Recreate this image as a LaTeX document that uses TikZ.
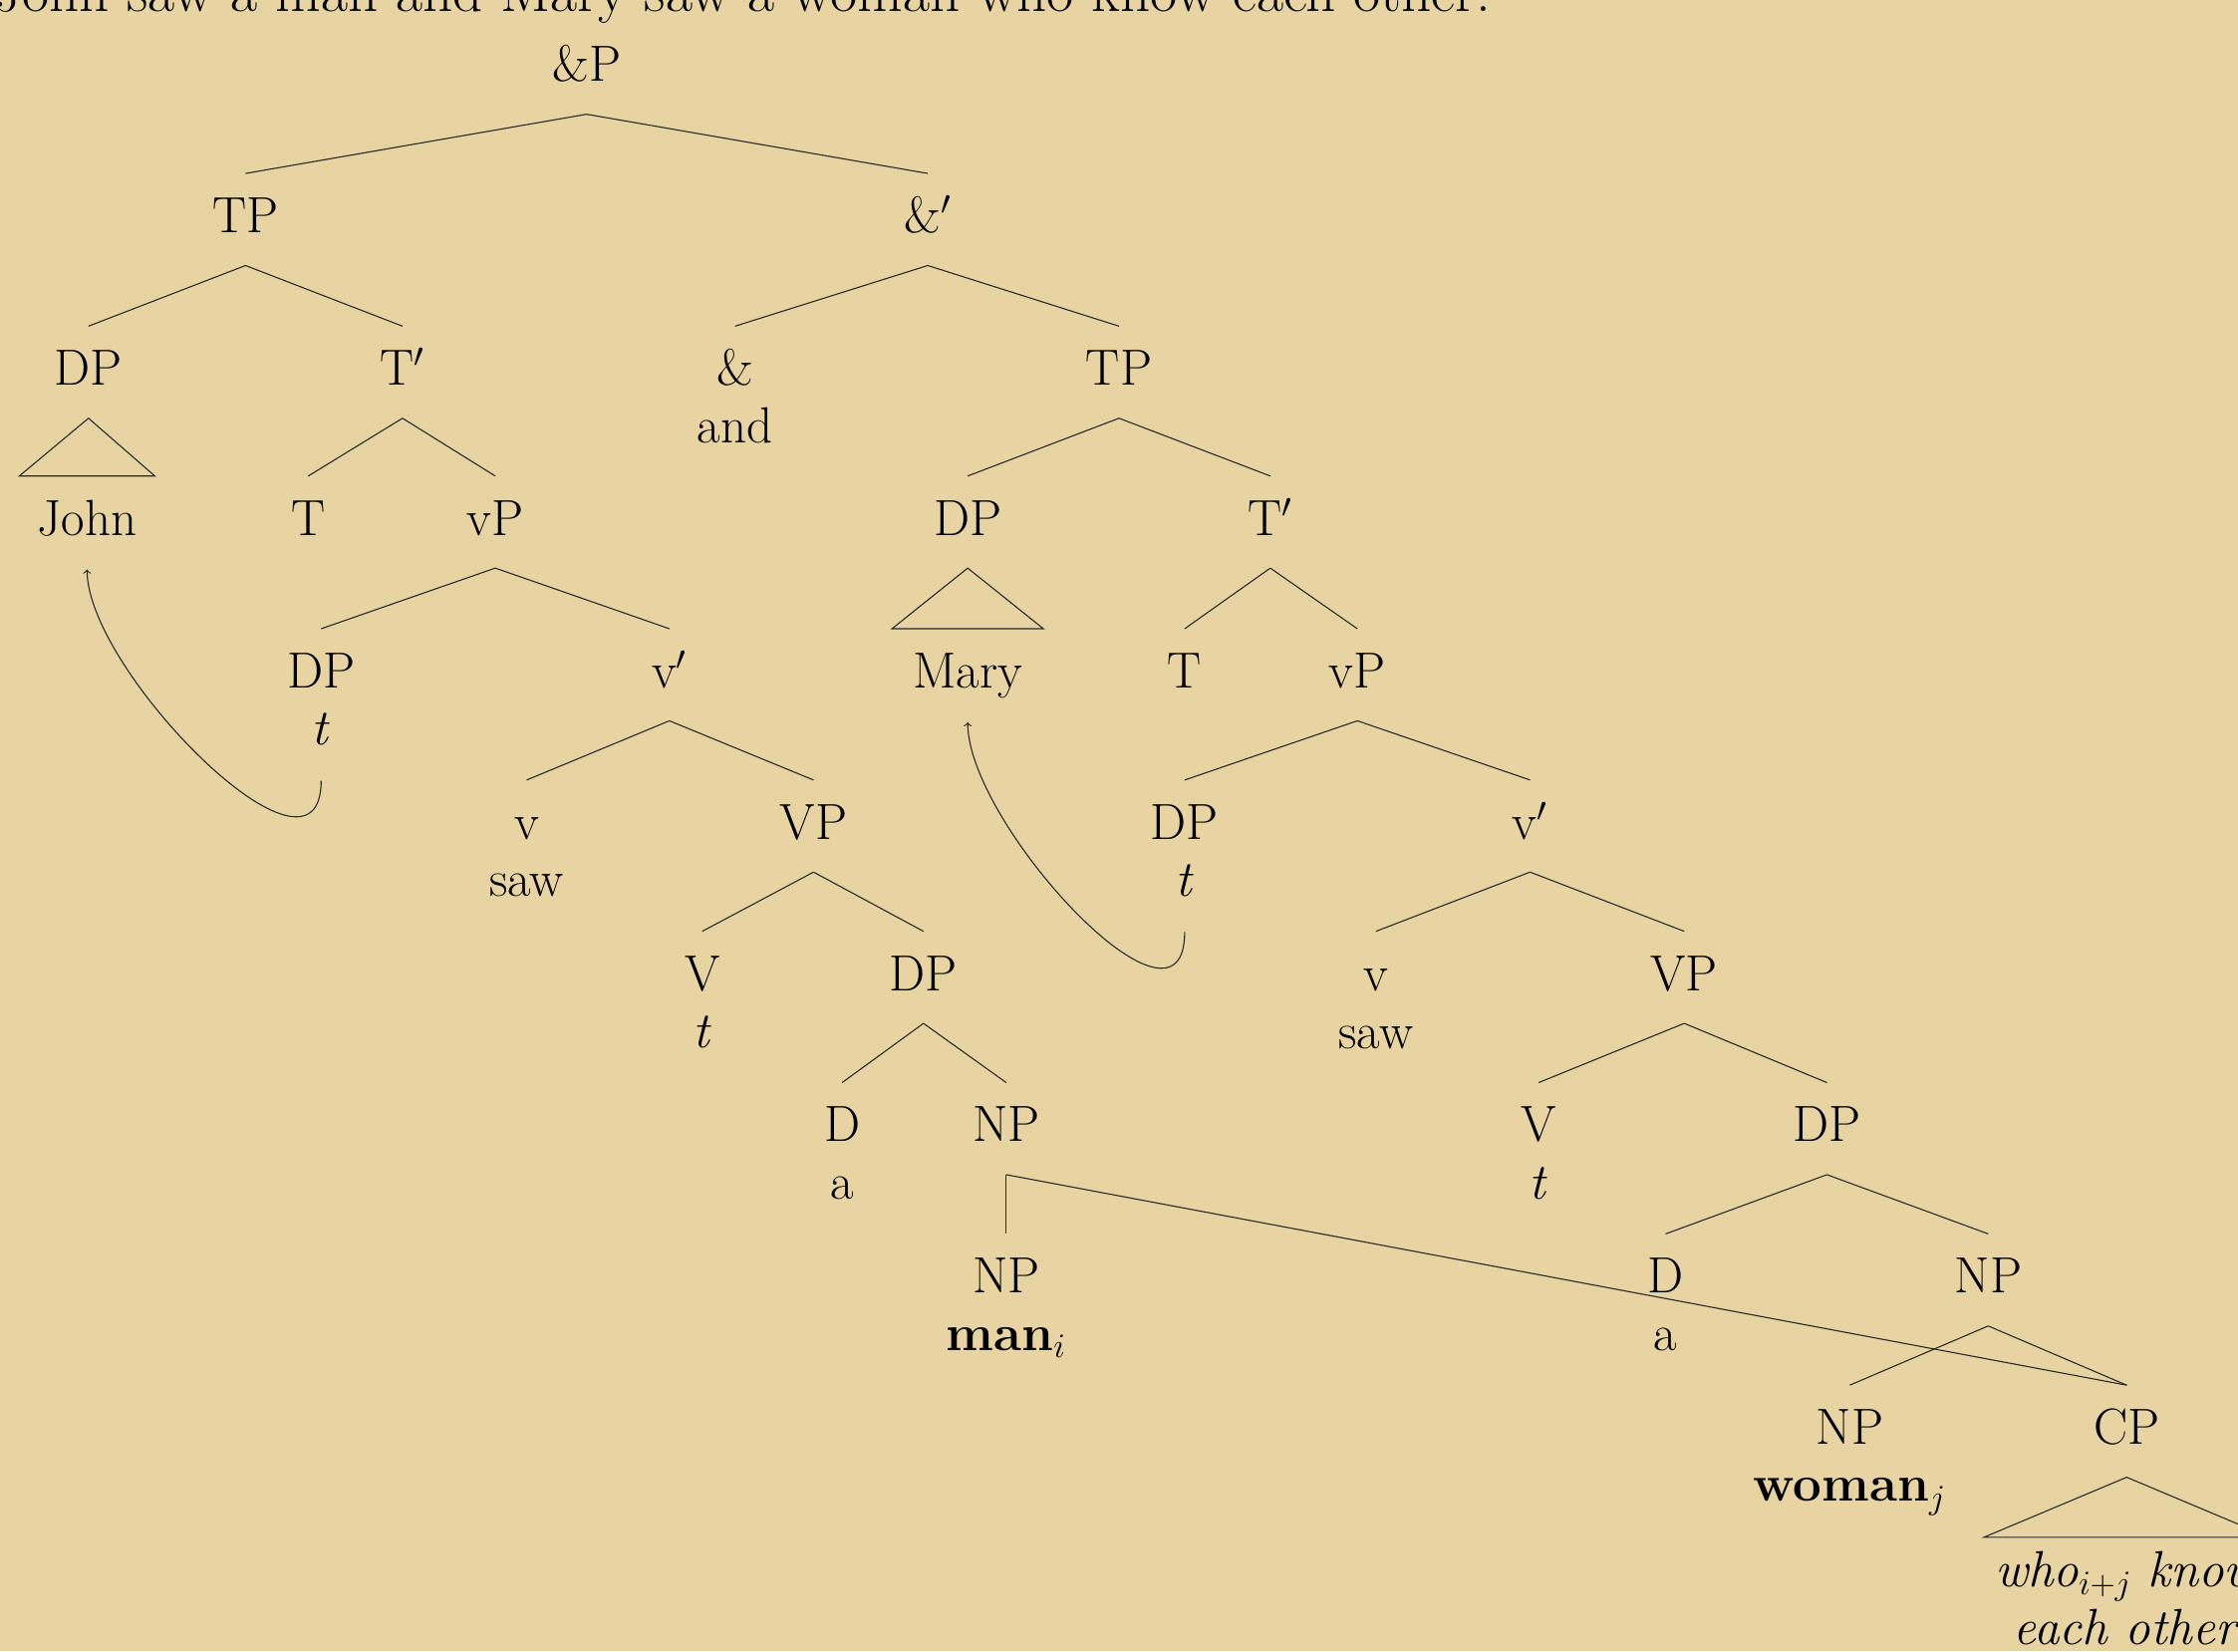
\documentclass[tikz,border=0pt]{standalone}
\usetikzlibrary{calc}
\definecolor{bg}{RGB}{232,212,162}
\definecolor{ln}{RGB}{40,40,40}
\begin{document}
\begin{tikzpicture}[x=0.7162pt,y=-0.7162pt,
  lbl/.style={anchor=base,inner sep=0pt,font=\fontsize{25.5}{30}\selectfont},
  br/.style={draw=ln,line width=0.55pt},
  mv/.style={draw=ln,line width=0.55pt,->,>=to}]
\fill[bg] (0,0) rectangle (1568,1157);
\useasboundingbox (0,0) rectangle (1568,1157);
% sentence (cut at top)
\node[lbl,anchor=base west,font=\fontsize{29.5}{34}\selectfont] (sent) at (-4,8) {John saw a man and Mary saw a woman who know each other.};
% row 1
\node[lbl] (andP) at (411,57) {\&P};
% row 2
\node[lbl] (tpA) at (172,163) {TP};
\node[lbl] (ampbar) at (650,163) {\&$'$};
% row 3
\node[lbl] (dpA) at (62,270) {DP};
\node[lbl] (tbarA) at (282,270) {T$'$};
\node[lbl] (amp) at (515,270) {\&};
\node[lbl] (andw) at (515,310) {and};
\node[lbl] (tpB) at (784,270) {TP};
% row 4
\node[lbl] (john) at (61,375) {John};
\node[lbl] (tA) at (216,375) {T};
\node[lbl] (vpA) at (347,375) {vP};
\node[lbl] (dpB) at (678,375) {DP};
\node[lbl] (tbarB) at (890,375) {T$'$};
% row 5
\node[lbl] (dpC) at (225,482) {DP};
\node[lbl] (trA) at (225,522) {\textit{t}};
\node[lbl] (vbarA) at (469,482) {v$'$};
\node[lbl] (mary) at (678,482) {Mary};
\node[lbl] (tB) at (830,482) {T};
\node[lbl] (vpB) at (951,482) {vP};
% row 6
\node[lbl] (vA) at (369,588) {v};
\node[lbl] (sawA) at (369,628) {saw};
\node[lbl] (VPA) at (570,588) {VP};
\node[lbl] (dpD) at (830,588) {DP};
\node[lbl] (trB) at (830,628) {\textit{t}};
\node[lbl] (vbarB) at (1072,588) {v$'$};
% row 7
\node[lbl] (VA) at (492,694) {V};
\node[lbl] (trC) at (492,734) {\textit{t}};
\node[lbl] (dpE) at (647,694) {DP};
\node[lbl] (vB) at (964,694) {v};
\node[lbl] (sawB) at (964,735) {saw};
\node[lbl] (VPB) at (1180,694) {VP};
% row 8
\node[lbl] (dA) at (590,800) {D};
\node[lbl] (aA) at (590,840) {a};
\node[lbl] (npA) at (705,800) {NP};
\node[lbl] (VB) at (1078,800) {V};
\node[lbl] (trD) at (1078,840) {\textit{t}};
\node[lbl] (dpF) at (1280,800) {DP};
% row 9
\node[lbl] (npB) at (705,906) {NP};
\node[lbl] (man) at (705,946) {\textbf{man}$_i$};
\node[lbl] (dB) at (1167,906) {D};
\node[lbl] (aB) at (1167,946) {a};
\node[lbl] (npC) at (1393,906) {NP};
% row 10
\node[lbl] (npD) at (1296,1012) {NP};
\node[lbl] (woman) at (1296,1052) {\textbf{woman}$_j$};
\node[lbl] (cp) at (1490,1012) {CP};
\node[lbl] (who) at (1490,1112) {\textit{who}$_{i+j}$ \textit{know}};
\node[lbl] (each) at (1490,1152) {\textit{each other}};
% branches
\foreach \p/\c in {andP/tpA, andP/ampbar, tpA/dpA, tpA/tbarA, ampbar/amp, ampbar/tpB,
  tbarA/tA, tbarA/vpA, tpB/dpB, tpB/tbarB, vpA/dpC, vpA/vbarA, tbarB/tB, tbarB/vpB,
  vbarA/vA, vbarA/VPA, vpB/dpD, vpB/vbarB, VPA/VA, VPA/dpE, vbarB/vB, vbarB/VPB,
  dpE/dA, dpE/npA, VPB/VB, VPB/dpF, npA/npB, npA/cp, dpF/dB, dpF/npC, npC/npD, npC/cp}
  \draw[br] ([yshift=-16.5pt]\p.base) -- ([yshift=29.7pt]\c.base);
% triangles
\draw[br] ([yshift=-16.5pt]dpA.base) -- ([xshift=-34pt,yshift=29.7pt]john.base) -- ([xshift=34pt,yshift=29.7pt]john.base) -- cycle;
\draw[br] ([yshift=-16.5pt]dpB.base) -- ([xshift=-38pt,yshift=29.7pt]mary.base) -- ([xshift=38pt,yshift=29.7pt]mary.base) -- cycle;
\draw[br] ([yshift=-16.5pt]cp.base) -- ([xshift=-71.6pt,yshift=25pt]who.base) -- ([xshift=71.6pt,yshift=25pt]who.base) -- cycle;
% movement arrows
\draw[mv] ([yshift=-17.9pt]trA.base) .. controls +(0,88) and +(0,72) .. ([yshift=-17.2pt]john.base);
\draw[mv] ([yshift=-17.9pt]trB.base) .. controls +(0,88) and +(0,72) .. ([yshift=-17.2pt]mary.base);
\end{tikzpicture}
\end{document}
